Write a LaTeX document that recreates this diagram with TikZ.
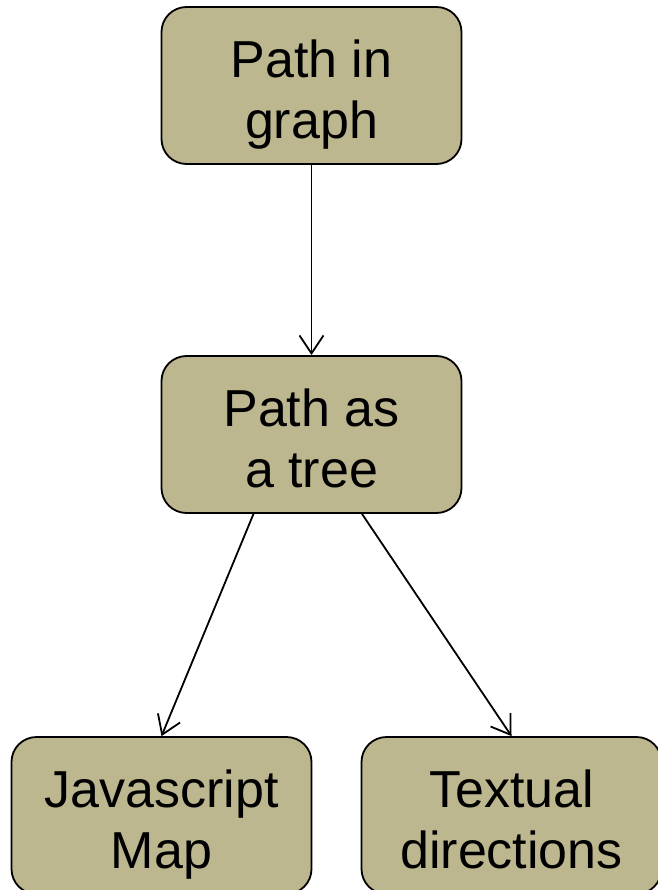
\documentclass[tikz,border=0pt]{standalone}
\usepackage{fontspec}
\setmainfont{Liberation Sans}
\usetikzlibrary{arrows.meta}
\definecolor{boxfill}{RGB}{189,183,143}
% struts that give every two-line label the same height and depth
\newcommand{\toprule}{\rule{0pt}{57pt}}
\newcommand{\botrule}{\rule[-12pt]{0pt}{12pt}}
\tikzset{
  topicbox/.style={draw=black, line width=1.8pt, fill=boxfill, rounded corners=25pt,
    minimum width=300pt, minimum height=157pt, inner sep=0pt, align=center,
    font=\fontsize{52}{61}\selectfont},
  link/.style={line width=1.8pt, -{Straight Barb[length=18pt,width=24pt,line width=1.8pt]}}
}
\begin{document}
\begin{tikzpicture}[x=1pt,y=1pt]
  \useasboundingbox (0,0) rectangle (657,-890);
  \node[topicbox] (graph) at (311.5,-85.5) {\toprule Path in\\graph\botrule};
  \node[topicbox] (tree) at (311.5,-434.5) {\toprule Path as\\a tree\botrule};
  \node[topicbox] (map) at (161.5,-815.5) {\toprule Javascript\\Map\botrule};
  \node[topicbox] (text) at (511.5,-815.5) {\toprule Textual\\directions\botrule};
  \draw[link] (graph.south) -- (tree.north);
  \draw[link] ([xshift=-58pt]tree.south) -- (map.north);
  \draw[link] ([xshift=50.5pt]tree.south) -- (text.north);
\end{tikzpicture}
\end{document}
